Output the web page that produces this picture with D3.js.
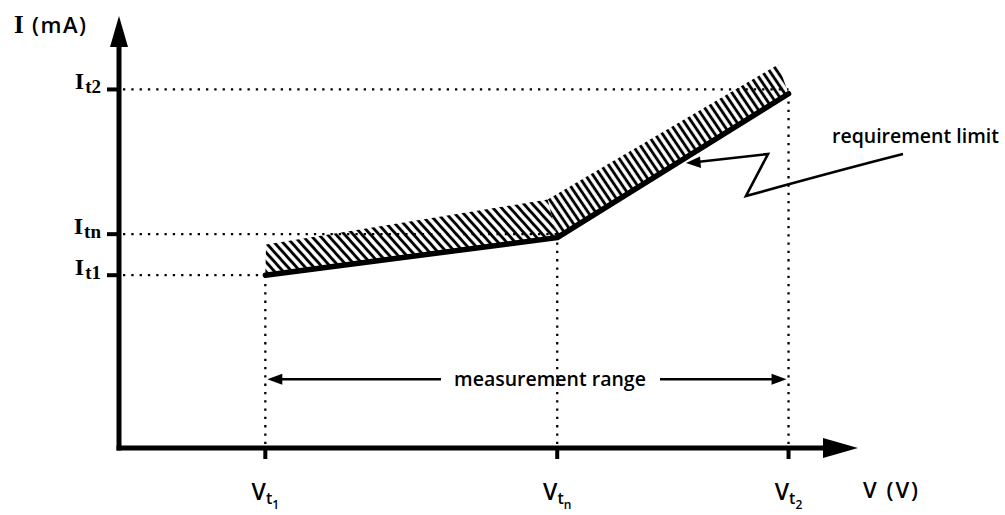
<!DOCTYPE html>
<html>
<head>
<meta charset="utf-8">
<script src="https://cdn.jsdelivr.net/npm/d3@7"></script>
<style>
  html, body { margin: 0; padding: 0; background: #fff; }
  svg { display: block; }
</style>
</head>
<body>
<svg id="chart" width="1005" height="515"></svg>
<script>
// Symbolic test points on the axes (arbitrary units)
const vTickSubs = ["1", "n", "2"];
const vTickValues = [1.98, 5.93, 9.06];
const iTickSubs = ["1", "n", "2"];
const iTickValues = [4.0, 4.95, 8.3];

// Requirement limit: current limit at each test voltage
const limitV = [1.98, 5.93, 9.06];
const limitI = [4.0, 4.87, 8.2];

// Upper edge of the hatched (forbidden) band above the limit
const bandV = [1.99, 5.80, 8.92];
const bandI = [4.71, 5.75, 8.88];

// Height of the measurement-range arrow
const rangeI = 1.59;

const svg = d3.select("#chart");
const SANS = "'Open Sans', 'DejaVu Sans', sans-serif";
const SERIF = "'Liberation Serif', 'DejaVu Serif', serif";

const x = d3.scaleLinear().domain([0, 10]).range([119, 858]);
const y = d3.scaleLinear().domain([0, 10]).range([448, 16]);

const x0 = x(0), y0 = y(0);

// ---- hatch patterns ----
const defs = svg.append("defs");
function hatch(id, angle, gap, width) {
  defs.append("pattern")
    .attr("id", id)
    .attr("patternUnits", "userSpaceOnUse")
    .attr("width", gap)
    .attr("height", 40)
    .attr("patternTransform", `rotate(${angle - 90})`)
    .append("line")
    .attr("x1", gap / 2).attr("x2", gap / 2)
    .attr("y1", -5).attr("y2", 45)
    .attr("stroke", "#000")
    .attr("stroke-width", width);
}
hatch("hatchFlat", 48, 6.4, 2.9);
hatch("hatchSteep", 56, 6.2, 2.9);

const pt = (v, i) => [x(v), y(i)];
const segs = [
  { fill: "url(#hatchFlat)", poly: [pt(limitV[0], limitI[0]), pt(limitV[1], limitI[1]), pt(bandV[1], bandI[1]), pt(bandV[0], bandI[0])] },
  { fill: "url(#hatchSteep)", poly: [pt(limitV[1], limitI[1]), pt(limitV[2], limitI[2]), pt(bandV[2], bandI[2]), pt(bandV[1], bandI[1])] }
];
svg.append("g").selectAll("path")
  .data(segs)
  .join("path")
  .attr("d", d => "M" + d.poly.map(p => p.join(",")).join("L") + "Z")
  .attr("fill", d => d.fill)
  .attr("stroke", "none");

// ---- dotted reference lines ----
const dots = svg.append("g")
  .attr("stroke", "#000")
  .attr("stroke-width", 2.3)
  .attr("stroke-dasharray", "2.3,6")
  .attr("fill", "none");

dots.selectAll("line.h")
  .data(iTickValues)
  .join("line")
  .attr("class", "h")
  .attr("x1", x0 + 4)
  .attr("x2", (d, k) => x(vTickValues[k]))
  .attr("y1", d => y(d))
  .attr("y2", d => y(d));

dots.selectAll("line.v")
  .data(vTickValues)
  .join("line")
  .attr("class", "v")
  .attr("x1", d => x(d))
  .attr("x2", d => x(d))
  .attr("y1", y0 - 4)
  .attr("y2", (d, k) => y(limitI[k]));

// ---- requirement limit curve ----
svg.append("path")
  .datum(limitV.map((v, k) => [v, limitI[k]]))
  .attr("d", d3.line().x(d => x(d[0])).y(d => y(d[1])))
  .attr("fill", "none")
  .attr("stroke", "#000")
  .attr("stroke-width", 5.5)
  .attr("stroke-linejoin", "round")
  .attr("stroke-linecap", "round");

// ---- axes ----
const axes = svg.append("g");
axes.append("line")
  .attr("x1", x0).attr("x2", x0)
  .attr("y1", y0 + 2.5).attr("y2", y(10) + 25)
  .attr("stroke", "#000").attr("stroke-width", 5);
axes.append("path")
  .attr("d", `M${x0},${y(10)}L${x0 - 9},${y(10) + 31}L${x0 + 9},${y(10) + 31}Z`)
  .attr("fill", "#000");
axes.append("line")
  .attr("x1", x0 - 2.5).attr("x2", x(10) - 30)
  .attr("y1", y0).attr("y2", y0)
  .attr("stroke", "#000").attr("stroke-width", 5);
axes.append("path")
  .attr("d", `M${x(10)},${y0}L${x(10) - 35},${y0 - 10}L${x(10) - 35},${y0 + 10}Z`)
  .attr("fill", "#000");

// tick marks
axes.selectAll("line.yt")
  .data(iTickValues)
  .join("line")
  .attr("class", "yt")
  .attr("x1", x0 - 12).attr("x2", x0)
  .attr("y1", d => y(d)).attr("y2", d => y(d))
  .attr("stroke", "#000").attr("stroke-width", 4);
axes.selectAll("line.xt")
  .data(vTickValues)
  .join("line")
  .attr("class", "xt")
  .attr("x1", d => x(d)).attr("x2", d => x(d))
  .attr("y1", y0).attr("y2", y0 + 11)
  .attr("stroke", "#000").attr("stroke-width", 4);

// ---- tick labels ----
// current levels: I with subscript t and index
const yLab = svg.append("g")
  .attr("font-family", SERIF)
  .attr("font-weight", "bold")
  .attr("fill", "#000")
  .attr("text-anchor", "end");
yLab.selectAll("text")
  .data(iTickValues)
  .join("text")
  .attr("x", x0 - 18)
  .attr("y", d => y(d))
  .each(function (d, k) {
    const t = d3.select(this);
    t.append("tspan").attr("font-size", 24).text("I");
    t.append("tspan").attr("font-size", 19).attr("dy", 4).attr("dx", 1).text("t" + iTickSubs[k]);
  });

// voltage levels: V with subscript t and index
const xLab = svg.append("g")
  .attr("font-family", SANS)
  .attr("font-weight", 600)
  .attr("fill", "#000")
  .attr("text-anchor", "middle");
xLab.selectAll("text")
  .data(vTickValues)
  .join("text")
  .attr("x", d => x(d))
  .attr("y", 500)
  .each(function (d, k) {
    const t = d3.select(this);
    t.append("tspan").attr("font-size", 23).text("V");
    t.append("tspan").attr("font-size", 16).attr("dy", 4).text("t");
    t.append("tspan").attr("font-size", 12).attr("dy", 5).text(vTickSubs[k]);
  });

// ---- axis titles ----
const yTitle = svg.append("text")
  .attr("x", 14).attr("y", 33)
  .attr("fill", "#000");
yTitle.append("tspan").attr("font-family", SERIF).attr("font-weight", "bold")
  .attr("font-size", 25).text("I");
yTitle.append("tspan").attr("font-family", SANS).attr("font-weight", 600)
  .attr("font-size", 22).attr("letter-spacing", 1.5).attr("x", 32).text("(mA)");

svg.append("text")
  .attr("x", 863).attr("y", 498)
  .attr("font-family", SANS).attr("font-weight", 600)
  .attr("font-size", 22).attr("letter-spacing", 2)
  .attr("fill", "#000")
  .text("V (V)");

// ---- measurement range annotation ----
const ry = y(rangeI);
const rx1 = x(vTickValues[0]) + 2, rx2 = x(vTickValues[2]) - 2;
const mr = svg.append("g");
mr.append("line").attr("x1", rx1 + 10).attr("x2", 441).attr("y1", ry).attr("y2", ry)
  .attr("stroke", "#000").attr("stroke-width", 2.6);
mr.append("line").attr("x1", 660).attr("x2", rx2 - 10).attr("y1", ry).attr("y2", ry)
  .attr("stroke", "#000").attr("stroke-width", 2.6);
mr.append("path").attr("d", `M${rx1},${ry}L${rx1 + 15},${ry - 5.5}L${rx1 + 15},${ry + 5.5}Z`).attr("fill", "#000");
mr.append("path").attr("d", `M${rx2},${ry}L${rx2 - 15},${ry - 5.5}L${rx2 - 15},${ry + 5.5}Z`).attr("fill", "#000");
mr.append("text")
  .attr("x", 550).attr("y", ry + 7)
  .attr("text-anchor", "middle")
  .attr("font-family", SANS).attr("font-weight", 600)
  .attr("font-size", 19.5)
  .attr("fill", "#000")
  .text("measurement range");

// ---- requirement limit callout ----
const rl = svg.append("g");
rl.append("path")
  .attr("d", "M697,162L768,154L746,196Q840,170 903,154")
  .attr("fill", "none")
  .attr("stroke", "#000")
  .attr("stroke-width", 2.6)
  .attr("stroke-linejoin", "miter");
rl.append("path")
  .attr("d", "M686,163L700,156.5L701,168Z")
  .attr("fill", "#000");
rl.append("text")
  .attr("x", 832).attr("y", 143)
  .attr("font-family", SANS).attr("font-weight", 600)
  .attr("font-size", 19.5)
  .attr("fill", "#000")
  .text("requirement limit");
</script>
</body>
</html>
